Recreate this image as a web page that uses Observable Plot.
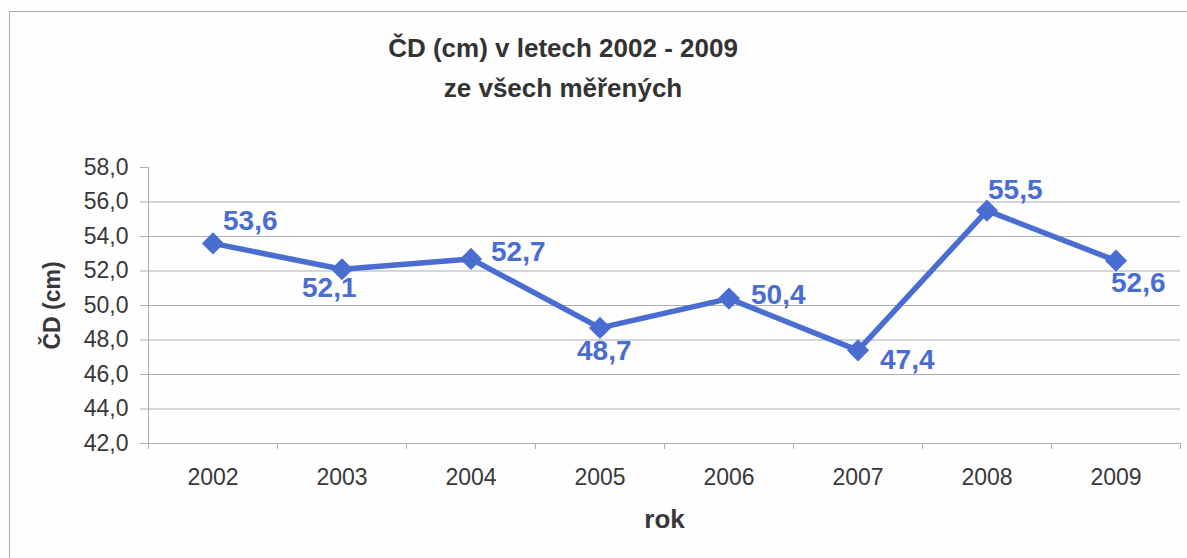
<!DOCTYPE html>
<html><head><meta charset="utf-8">
<script src="https://cdn.jsdelivr.net/npm/d3@7"></script>
<script src="https://cdn.jsdelivr.net/npm/@observablehq/plot@0.6"></script>
<style>
html,body{margin:0;padding:0;background:#fff;overflow:hidden;}
#wrap{position:relative;width:1187px;height:558px;overflow:hidden;background:#fefefe;font-family:"Liberation Sans",Arial,sans-serif;}
#frame{position:absolute;left:9px;top:11px;width:1300px;height:700px;border:1px solid #a9a9a9;box-sizing:border-box;}
#title{position:relative;width:1126px;height:103px;padding-top:28px;text-align:center;font-weight:bold;font-size:26px;line-height:40px;color:#333;}
#chart{position:relative;}
#chart svg{display:block}
</style></head>
<body><div id="wrap"><div id="frame"></div><div id="title"></div><div id="chart"></div></div>
<script>
const titleLines = ["ČD (cm) v letech 2002 - 2009", "ze všech měřených"];
const years = ["2002", "2003", "2004", "2005", "2006", "2007", "2008", "2009"];
const values = [53.6, 52.1, 52.7, 48.7, 50.4, 47.4, 55.5, 52.6];
const yTicks = [42, 44, 46, 48, 50, 52, 54, 56, 58];
const xLabel = "rok";
const yLabel = "ČD (cm)";
// label offsets (style), per point [dx, dy]
const labelOffsets = [[10,-22],[-40,19],[20,-7],[-23,23],[22,-4],[22,10],[1,-21],[-5,22]];

const blue = "#4a6dd1";
const grid = "#a9afb5";
const textColor = "#383838";
const font = "'Liberation Sans', Arial, sans-serif";
const fmt = v => v.toFixed(1).replace(".", ",");

document.getElementById("title").innerHTML = titleLines.map(t => `<div>${t}</div>`).join("");

const data = years.map((y, i) => ({i, year: y, value: values[i]}));
const boundaries = d3.range(-0.5, years.length, 1);

const plot = Plot.plot({
  width: 1187, height: 428,
  marginLeft: 148, marginRight: 7, marginTop: 36, marginBottom: 116,
  style: {fontFamily: font, background: "transparent", overflow: "visible"},
  x: {type: "linear", domain: [-0.5, years.length - 0.5], axis: null},
  y: {domain: [42, 58], axis: null},
  marks: [
    Plot.gridY(yTicks.filter(t => t < 58), {stroke: grid, strokeOpacity: 1, strokeWidth: 1}),
    Plot.ruleX([-0.5], {y1: 42, y2: 58, stroke: grid, strokeWidth: 1}),
    Plot.axisY(yTicks, {tickSize: 8, tickPadding: 12, tickFormat: fmt, fontSize: 23, stroke: grid, fill: textColor, label: null}),
    Plot.axisX(boundaries, {tickSize: 6, tickFormat: () => "", stroke: grid, label: null}),
    Plot.axisX(d3.range(years.length), {tickSize: 0, tickPadding: 25, tickFormat: i => years[i], fontSize: 23, fill: textColor, label: null}),
    Plot.line(data, {x: "i", y: "value", stroke: blue, strokeWidth: 5.5}),
    Plot.dot(data, {x: "i", y: "value", symbol: "diamond2", r: 10, fill: blue, stroke: null}),
    ...data.map((d, i) => Plot.text([d], {
      x: "i", y: "value", text: e => fmt(e.value), textAnchor: "start",
      dx: labelOffsets[i][0], dy: labelOffsets[i][1],
      fill: blue, fontSize: 28, fontWeight: "bold"
    })),
    Plot.text([xLabel], {frameAnchor: "bottom", dy: 84, text: d => d, fontSize: 26, fontWeight: "bold", fill: textColor}),
    Plot.text([yLabel], {frameAnchor: "left", dx: -96, dy: 44, rotate: -90, text: d => d, fontSize: 23, fontWeight: "bold", fill: textColor})
  ]
});
document.getElementById("chart").appendChild(plot);
</script>
</body></html>
